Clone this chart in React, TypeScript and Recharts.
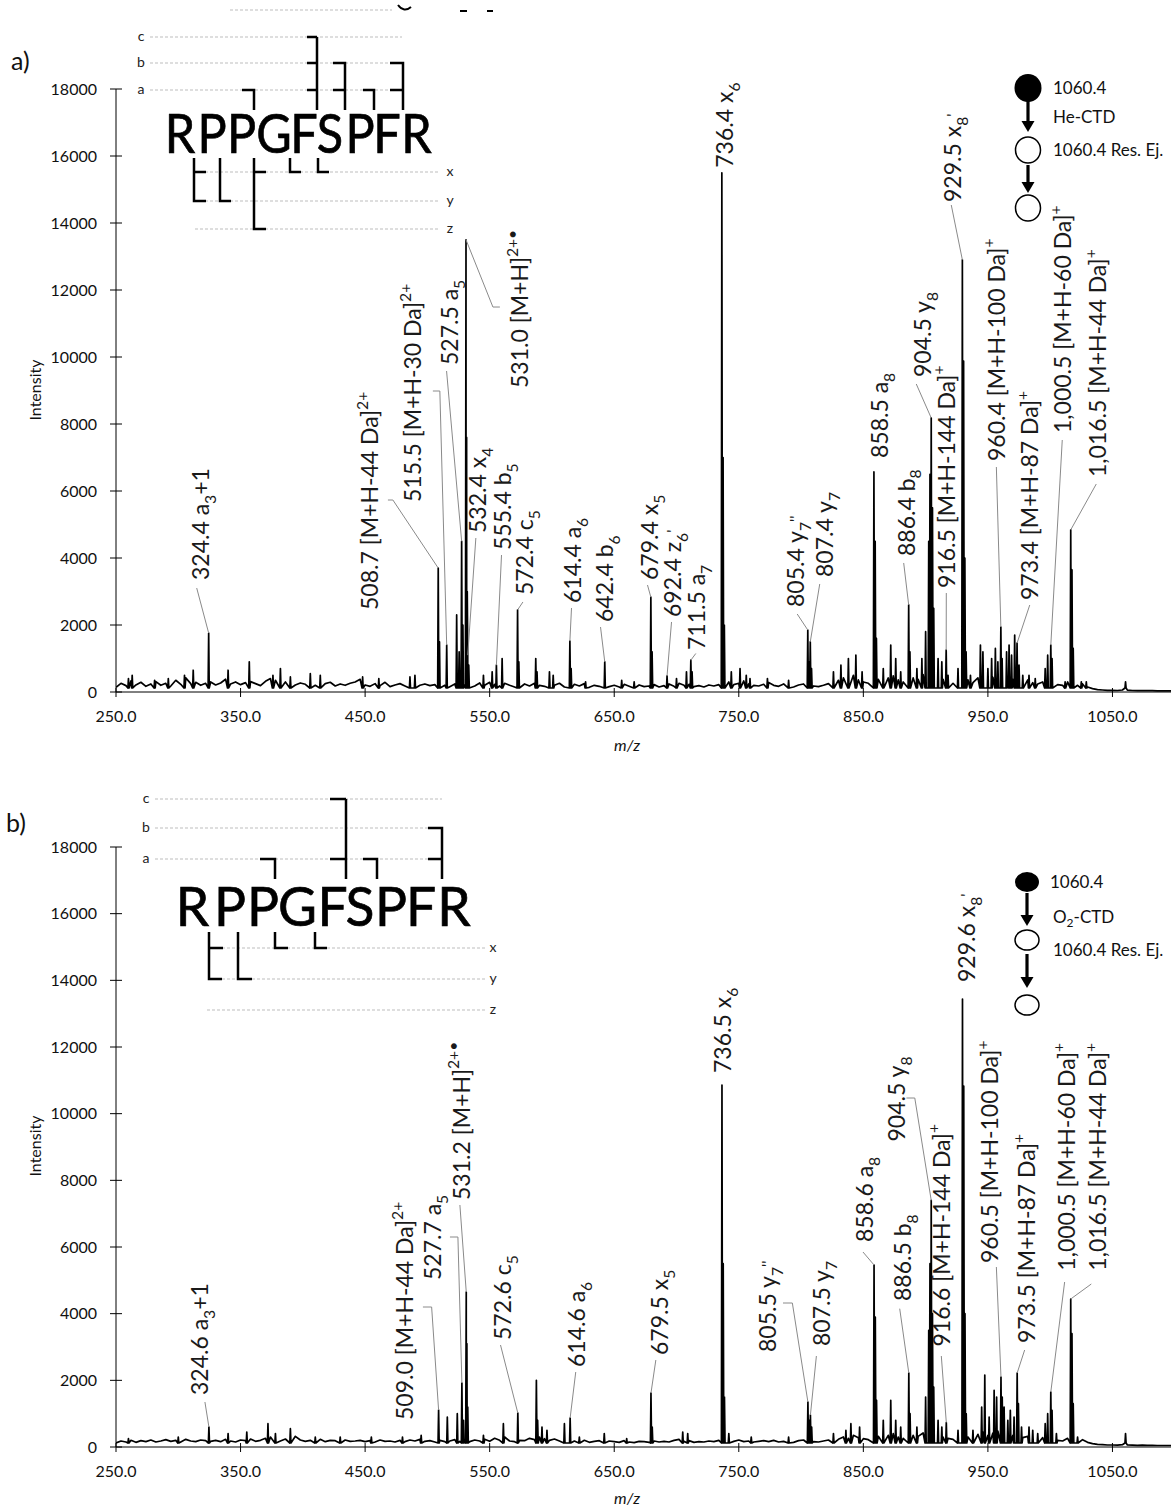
import React from 'react';
import { ComposedChart, Line, XAxis, YAxis, ReferenceLine, ReferenceDot } from 'recharts';

// ---------------- data ----------------
const xTicks = [250, 350, 450, 550, 650, 750, 850, 950, 1050];
const yTicks = [0, 2000, 4000, 6000, 8000, 10000, 12000, 14000, 16000, 18000];
const noiseStart = 250;
const noiseStep = 4;

const noiseA = [
  140, 260, 190, 330, 210, 290, 170, 240, 310, 200,
  260, 180, 350, 230, 420, 250, 290, 200, 260, 300,
  210, 270, 380, 240, 300, 220, 280, 310, 250, 190,
  320, 400, 350, 260, 300, 230, 210, 270, 230, 260,
  200, 330, 250, 290, 180, 240, 200, 260, 300, 380,
  210, 170, 250, 190, 290, 160, 210, 250, 180, 300,
  260, 200, 240, 190, 220, 180, 200, 160, 240, 200,
  210, 250, 180, 270, 200, 290, 230, 180, 260, 200,
  150, 220, 240, 180, 260, 200, 170, 240, 200, 260,
  150, 200, 230, 180, 250, 140, 200, 170, 220, 160,
  200, 150, 230, 170, 140, 210, 160, 180, 220, 150,
  190, 240, 170, 260, 200, 230, 160, 190, 150, 210,
  180, 220, 260, 300, 220, 260, 330, 240, 200, 180,
  230, 280, 200, 170, 240, 180, 150, 210, 240, 200,
  180, 160, 200, 250, 300, 350, 420, 380, 500, 360,
  300, 260, 320, 380, 300, 420, 480, 360, 300, 340,
  420, 380, 520, 600, 500, 420, 380, 300, 260, 320,
  400, 360, 280, 420, 500, 380, 440, 520, 400, 460,
  380, 420, 300, 360, 280, 240, 300, 340, 280, 220,
  200, 300, 320, 200, 240, 150, 100, 70, 60, 50,
  50, 45, 60, 55, 45, 40, 45, 40, 40, 35,
  35, 35, 35,
];

const noiseB = [
  120, 180, 150, 200, 140, 190, 160, 210, 150, 180,
  220, 170, 200, 150, 230, 180, 160, 210, 190, 170,
  200, 160, 230, 180, 150, 210, 190, 240, 170, 200,
  260, 300, 200, 180, 240, 190, 320, 210, 170, 200,
  180, 230, 160, 200, 190, 150, 210, 170, 180, 200,
  160, 190, 150, 210, 170, 180, 150, 200, 160, 210,
  180, 230, 170, 190, 150, 200, 160, 180, 220, 170,
  190, 160, 210, 180, 230, 170, 260, 200, 300, 180,
  160, 200, 190, 260, 220, 300, 250, 200, 240, 180,
  200, 160, 180, 150, 200, 140, 170, 190, 150, 180,
  160, 140, 190, 150, 130, 170, 160, 140, 180, 150,
  170, 150, 200, 230, 170, 190, 140, 160, 150, 180,
  160, 200, 180, 220, 170, 210, 160, 180, 150, 170,
  190, 160, 200, 150, 170, 180, 140, 190, 210, 170,
  160, 150, 180, 210, 250, 230, 300, 260, 350, 280,
  250, 220, 280, 320, 260, 350, 400, 300, 260, 320,
  350, 320, 420, 480, 400, 350, 300, 260, 230, 280,
  350, 300, 260, 380, 450, 350, 420, 480, 380, 420,
  350, 380, 280, 320, 260, 220, 280, 300, 260, 200,
  180, 260, 300, 200, 220, 140, 100, 80, 70, 60,
  60, 55, 70, 60, 55, 50, 55, 50, 50, 45,
  45, 45, 45,
];

const peaksA: [number, number][] = [
  [260, 400], [263, 500], [281, 350], [292, 400], [305, 500], [312, 650], [324.4, 1760],
  [340, 650], [357, 900], [376, 500], [382, 700], [390, 450], [406, 550], [414, 500],
  [448, 450], [461, 400], [486, 450], [490, 500], [508.7, 3700], [509.7, 1500],
  [515.5, 1400], [523.5, 2300], [525.5, 1200], [527.5, 4500], [528.5, 2000],
  [531.0, 13500], [531.5, 7600], [532.0, 3000], [532.4, 1100], [533.2, 800],
  [545, 500], [552, 600], [555.4, 800], [560, 1000], [572.4, 2450], [573.4, 900],
  [587, 1000], [588, 600], [598, 600], [601, 500], [614.4, 1520], [615.4, 700],
  [627, 300], [642.4, 900], [656, 350], [666, 300], [679.4, 2830], [680.4, 1200],
  [692.4, 480], [700, 400], [708, 600], [711.5, 950], [712.5, 600],
  [736.4, 15500], [737.4, 7000], [738.4, 2000], [744, 600], [751, 700], [756, 500],
  [759, 400], [773, 400], [790, 350], [805.4, 1850], [806.4, 900], [807.4, 1500],
  [808.4, 700], [826, 600], [832, 800], [838, 1000], [844, 1100], [849, 600],
  [858.5, 6570], [859.5, 4500], [860.5, 1600], [866, 700], [872, 1400], [876, 1000],
  [880, 600], [886.4, 2600], [887.4, 1200], [893, 700], [897, 1000], [900, 1800],
  [902.5, 4500], [903.5, 6500], [904.5, 8180], [905.5, 5500], [906.5, 2500],
  [910, 1000], [913, 900], [916.5, 1250], [918, 500], [926, 700],
  [929.5, 12900], [930.5, 9880], [931.5, 4000], [932.5, 1200], [936, 500],
  [944, 1400], [946, 1200], [950, 700], [953, 1000], [956, 1300], [958, 900],
  [960.4, 1940], [961.4, 1000], [965, 1200], [967, 1400], [969, 1100], [971.5, 1700],
  [973.4, 1460], [975, 800], [978, 500], [983, 500], [988, 400], [996, 700],
  [998, 1100], [1000.5, 1400], [1001.5, 1000], [1012, 300], [1016.5, 4840],
  [1017.5, 3650], [1018.5, 1300], [1025, 300], [1029, 300], [1060.5, 300],
];

const peaksB: [number, number][] = [
  [260, 250], [300, 300], [324.6, 600], [340, 400], [355, 450], [372, 700], [378, 400],
  [390, 550], [410, 300], [430, 300], [455, 300], [480, 300], [495, 350],
  [509.0, 1110], [516, 900], [524, 1000], [527.7, 1920], [529, 800],
  [531.2, 4650], [531.7, 3100], [532.4, 1200], [545, 350], [561, 700],
  [572.6, 1020], [587.5, 2000], [588.5, 800], [592, 600], [596, 500], [610, 700],
  [614.6, 870], [622, 300], [642, 400], [660, 250], [679.5, 1620], [680.5, 600],
  [705, 450], [709, 400], [736.5, 10860], [737.5, 5500], [738.5, 1500], [742, 400],
  [760, 300], [790, 300], [805.5, 1350], [806.5, 800], [807.5, 960], [808.5, 600],
  [826, 400], [836, 500], [840, 700], [847, 600], [858.6, 5460], [859.6, 3900],
  [860.6, 1400], [866, 800], [872, 1400], [876, 800], [880, 600], [886.5, 2220],
  [887.5, 1000], [893, 600], [900, 1500], [902.5, 3500], [903.5, 5500], [904.5, 7400],
  [905.5, 4000], [906.5, 1800], [910, 800], [913, 600], [916.6, 735], [926, 500],
  [929.6, 13440], [930.6, 10830], [931.6, 4000], [932.6, 1000], [938, 500],
  [945, 1200], [947.5, 2160], [951, 900], [955, 1700], [957, 1500], [960.5, 2100],
  [961.5, 1500], [963, 1200], [966, 800], [968, 1100], [971, 900], [973.5, 2220],
  [974.5, 1300], [977, 600], [983, 600], [986, 500], [990, 400], [996, 700],
  [998, 1000], [1000.5, 1650], [1001.5, 1100], [1005, 400], [1016.5, 4440],
  [1017.5, 3400], [1018.5, 1300], [1022, 300], [1060.5, 400],
];

// peak annotations (peak m/z and text; _{} = subscript, ^{} = superscript)
const labelsA = [
  { mz: 324.4, text: '324.4 a_{3}+1' },
  { mz: 508.7, text: '508.7 [M+H-44 Da]^{2+}' },
  { mz: 515.5, text: '515.5 [M+H-30 Da]^{2+}' },
  { mz: 527.5, text: '527.5 a_{5}' },
  { mz: 531.0, text: '531.0 [M+H]^{2+•}' },
  { mz: 532.4, text: '532.4 x_{4}' },
  { mz: 555.4, text: '555.4 b_{5}' },
  { mz: 572.4, text: '572.4 c_{5}' },
  { mz: 614.4, text: '614.4 a_{6}' },
  { mz: 642.4, text: '642.4 b_{6}' },
  { mz: 679.4, text: '679.4 x_{5}' },
  { mz: 692.4, text: "692.4 z_{6}^{'}" },
  { mz: 711.5, text: '711.5 a_{7}' },
  { mz: 736.4, text: '736.4 x_{6}' },
  { mz: 805.4, text: "805.4 y_{7}^{''}" },
  { mz: 807.4, text: '807.4 y_{7}' },
  { mz: 858.5, text: '858.5 a_{8}' },
  { mz: 886.4, text: '886.4 b_{8}' },
  { mz: 904.5, text: '904.5 y_{8}' },
  { mz: 916.5, text: '916.5 [M+H-144 Da]^{+}' },
  { mz: 929.5, text: "929.5 x_{8}^{'}" },
  { mz: 960.4, text: '960.4 [M+H-100 Da]^{+}' },
  { mz: 973.4, text: '973.4 [M+H-87 Da]^{+}' },
  { mz: 1000.5, text: '1,000.5 [M+H-60 Da]^{+}' },
  { mz: 1016.5, text: '1,016.5 [M+H-44 Da]^{+}' },
];

const labelsB = [
  { mz: 324.6, text: '324.6 a_{3}+1' },
  { mz: 509.0, text: '509.0 [M+H-44 Da]^{2+}' },
  { mz: 527.7, text: '527.7 a_{5}' },
  { mz: 531.2, text: '531.2 [M+H]^{2+•}' },
  { mz: 572.6, text: '572.6 c_{5}' },
  { mz: 614.6, text: '614.6 a_{6}' },
  { mz: 679.5, text: '679.5 x_{5}' },
  { mz: 736.5, text: '736.5 x_{6}' },
  { mz: 805.5, text: "805.5 y_{7}^{''}" },
  { mz: 807.5, text: '807.5 y_{7}' },
  { mz: 858.6, text: '858.6 a_{8}' },
  { mz: 886.5, text: '886.5 b_{8}' },
  { mz: 904.5, text: '904.5 y_{8}' },
  { mz: 916.6, text: '916.6 [M+H-144 Da]^{+}' },
  { mz: 929.6, text: "929.6 x_{8}^{'}" },
  { mz: 960.5, text: '960.5 [M+H-100 Da]^{+}' },
  { mz: 973.5, text: '973.5 [M+H-87 Da]^{+}' },
  { mz: 1000.5, text: '1,000.5 [M+H-60 Da]^{+}' },
  { mz: 1016.5, text: '1,016.5 [M+H-44 Da]^{+}' },
];

// ---------------- layout (label anchors / leader bends, in axis units) ----------------
type LL = { at: [number, number]; via: [number, number][] };
const layoutA: LL[] = [
  { at: [318.2, 3343], via: [[314.8, 3104]] },
  { at: [453.9, 2448], via: [[468.3, 5731], [472.3, 5731]] },
  { at: [488.4, 5672], via: [[504.4, 8985], [510.0, 8985]] },
  { at: [518.1, 9761], via: [[515.4, 9582]] },
  { at: [574.2, 9074], via: [[558.2, 11492], [552.6, 11492]] },
  { at: [540.5, 4746], via: [[538.9, 4597]] },
  { at: [560.6, 4239], via: [[559.5, 4089]] },
  { at: [578.3, 2895], via: [[576.7, 2687]] },
  { at: [616.8, 2657], via: [[615.7, 2507]] },
  { at: [642.5, 2090], via: [[639.0, 1940]] },
  { at: [678.6, 3343], via: [[676.7, 3194]] },
  { at: [697.1, 2239], via: [[696.0, 2090]] },
  { at: [716.3, 1254], via: [[715.5, 1150]] },
  { at: [739.0, 15650], via: [] },
  { at: [795.8, 2537], via: [[796.9, 2328]] },
  { at: [819.0, 3433], via: [[815.0, 3224]] },
  { at: [863.2, 6985], via: [] },
  { at: [884.5, 4060], via: [[882.4, 3851]] },
  { at: [897.7, 9403], via: [[892.5, 9194]] },
  { at: [916.6, 3104], via: [[916.6, 2955]] },
  { at: [921.7, 14627], via: [[920.6, 14537]] },
  { at: [956.8, 6895], via: [[956.8, 6716]] },
  { at: [983.6, 2746], via: [[983.6, 2597]] },
  { at: [1010.0, 7731], via: [[1009.7, 7522]] },
  { at: [1038.1, 6418], via: [[1037.0, 6209]] },
];

const layoutB: LL[] = [
  { at: [317.4, 1560], via: [[321.4, 1350]] },
  { at: [481.9, 810], via: [[496.4, 4200], [503.4, 4200]] },
  { at: [504.4, 5010], via: [[518.1, 6300], [524.5, 6300]] },
  { at: [527.4, 7410], via: [[526.1, 7260]] },
  { at: [560.6, 3210], via: [[558.7, 3060]] },
  { at: [619.7, 2400], via: [[619.1, 2250]] },
  { at: [686.6, 2760], via: [[683.4, 2610]] },
  { at: [737.3, 11220], via: [] },
  { at: [773.4, 2850], via: [[785.5, 4320], [793.0, 4320]] },
  { at: [816.3, 3030], via: [[812.3, 2730]] },
  { at: [851.1, 6150], via: [[849.7, 5850]] },
  { at: [881.8, 4380], via: [[879.2, 4150]] },
  { at: [876.5, 9165], via: [[884.6, 10470], [891.3, 10470]] },
  { at: [912.6, 3015], via: [[912.6, 2730]] },
  { at: [932.7, 13950], via: [] },
  { at: [951.4, 5520], via: [[956.8, 5400]] },
  { at: [980.8, 3120], via: [[979.5, 2910]] },
  { at: [1012.9, 5290], via: [[1011.6, 4950]] },
  { at: [1038.3, 5290], via: [[1033.0, 4890]] },
];

// ---------------- helpers ----------------
const FONT = 'Lato, "Open Sans", sans-serif';
const W = 1171;
const PEAK_FOOT = 120;
const LABEL_SIZE = 23;
const SEQ = ['R', 'P', 'P', 'G', 'F', 'S', 'P', 'F', 'R'];
const seqXA = [180, 212, 241.5, 274, 304, 330, 360, 387, 416.5];
const seqXB = [192.5, 230, 263, 297.5, 332.5, 360, 391, 421, 454];

function buildSpectrum(noise: number[], peaks: [number, number][]) {
  const pts: { mz: number; v: number }[] = [];
  noise.forEach((v, i) => {
    const mz = noiseStart + i * noiseStep;
    if (peaks.some(([p]) => Math.abs(p - mz) < 0.8)) return;
    pts.push({ mz, v });
  });
  peaks.forEach(([mz, h]) => {
    pts.push({ mz: mz - 0.45, v: PEAK_FOOT }, { mz, v: h }, { mz: mz + 0.45, v: PEAK_FOOT });
  });
  pts.sort((a, b) => a.mz - b.mz);
  return pts;
}

function rich(text: string, size: number) {
  const parts = text.split(/(_\{[^}]*\}|\^\{[^}]*\})/).filter((s) => s.length > 0);
  let shift = 0;
  let prevSub = false;
  return parts.map((p, i) => {
    let target = 0;
    let content = p;
    let fs = size;
    const isSub = p.startsWith('_{');
    if (isSub) {
      target = 0.3 * size;
      content = p.slice(2, -1);
      fs = 0.68 * size;
    } else if (p.startsWith('^{')) {
      target = prevSub ? -0.12 * size : -0.45 * size;
      content = p.slice(2, -1);
      fs = 0.68 * size;
    }
    const dy = target - shift;
    shift = target;
    prevSub = isSub;
    return (
      <tspan key={i} dy={dy || undefined} fontSize={fs}>
        {content}
      </tspan>
    );
  });
}

const XTick = (p: any) => (
  <g>
    <line x1={p.x} x2={p.x} y1={p.y - 4} y2={p.y + 5} stroke="#000" strokeWidth={1} />
    <text x={p.x} y={p.y + 30} textAnchor="middle" fontSize={16} fontFamily={FONT} fill="#111">
      {Number(p.payload.value).toFixed(1)}
    </text>
  </g>
);

const YTick = (p: any) => (
  <g>
    <line x1={p.x - 6} x2={p.x + 6} y1={p.y} y2={p.y} stroke="#000" strokeWidth={1} />
    <text x={p.x - 19} y={p.y} dy="0.36em" textAnchor="end" fontSize={16} fontFamily={FONT} fill="#111">
      {p.payload.value}
    </text>
  </g>
);

function Panel({
  top, noise, peaks, labels, layout,
}: { top: number; noise: number[]; peaks: [number, number][]; labels: { mz: number; text: string }[]; layout: LL[] }) {
  const data = buildSpectrum(noise, peaks);
  const plotH = top === 0 ? 603 : 600;
  const leaders: React.ReactNode[] = [];
  const texts: React.ReactNode[] = [];
  labels.forEach((lb, i) => {
    const lay = layout[i];
    const pk = peaks.find(([m]) => m === lb.mz);
    const peakPt: [number, number] = [lb.mz, pk ? pk[1] : 0];
    const chain: [number, number][] = [...lay.via, peakPt];
    if (lay.via.length > 0) {
      for (let k = 0; k < chain.length - 1; k++) {
        leaders.push(
          <ReferenceLine
            key={`l${i}-${k}`}
            segment={[{ x: chain[k][0], y: chain[k][1] }, { x: chain[k + 1][0], y: chain[k + 1][1] }]}
            stroke="#8a8a8a"
            strokeWidth={1}
            ifOverflow="visible"
          />
        );
      }
    }
    texts.push(
      <ReferenceDot
        key={`t${i}`}
        x={lay.at[0]}
        y={lay.at[1]}
        r={1}
        ifOverflow="visible"
        shape={(sp: any) => (
          <text
            transform={`translate(${sp.cx},${sp.cy}) rotate(-90)`}
            x={0}
            y={0.36 * LABEL_SIZE}
            fontSize={LABEL_SIZE}
            fontFamily={FONT}
            fill="#1a1a1a"
          >
            {rich(lb.text, LABEL_SIZE)}
          </text>
        )}
      />
    );
  });
  return (
    <div style={{ position: 'absolute', left: 0, top }}>
      <ComposedChart width={W} height={89 + plotH + 60} data={data} margin={{ top: 89, right: 0, bottom: 0, left: 0 }}>
        <XAxis
          dataKey="mz"
          type="number"
          domain={[250, 1097]}
          allowDataOverflow
          ticks={xTicks}
          interval={0}
          height={60}
          axisLine={{ stroke: '#000', strokeWidth: 1 }}
          tickLine={false}
          tickSize={0}
          tickMargin={0}
          tick={XTick}
        />
        <YAxis
          type="number"
          domain={[0, 18000]}
          ticks={yTicks}
          interval={0}
          width={116}
          axisLine={{ stroke: '#000', strokeWidth: 1 }}
          tickLine={false}
          tickSize={0}
          tickMargin={0}
          tick={YTick}
        />
        <Line
          dataKey="v"
          type="linear"
          dot={false}
          activeDot={false}
          stroke="#000"
          strokeWidth={1.7}
          strokeLinejoin="round"
          isAnimationActive={false}
        />
        {leaders}
        {texts}
      </ComposedChart>
    </div>
  );
}

const dash = { stroke: '#bdbdbd', strokeWidth: 1, strokeDasharray: '3 2' };
const mark = { stroke: '#000', strokeWidth: 2.5, fill: 'none' };

function Arrow({ x, y1, y2 }: { x: number; y1: number; y2: number }) {
  return (
    <g>
      <line x1={x} x2={x} y1={y1} y2={y2 - 8} stroke="#000" strokeWidth={3.2} />
      <path d={`M${x - 6.5},${y2 - 11} L${x + 6.5},${y2 - 11} L${x},${y2} Z`} fill="#000" />
    </g>
  );
}

function Overlay() {
  const small = { fontSize: 14, fontFamily: FONT, fill: '#222' };
  const leg = { fontSize: 17, fontFamily: FONT, fill: '#111' };
  return (
    <svg width={W} height={1510} style={{ position: 'absolute', left: 0, top: 0, pointerEvents: 'none' }}>
      {/* cropped remnants at top */}
      <line x1={230} x2={392} y1={10} y2={10} {...dash} />
      <path d="M398,5 Q404,13 411,7" stroke="#000" strokeWidth={2} fill="none" />
      <line x1={460} x2={467} y1={11} y2={11} stroke="#000" strokeWidth={2} />
      <line x1={487} x2={493} y1={11} y2={11} stroke="#000" strokeWidth={2} />

      {/* panel letters */}
      <text x={11} y={70} fontSize={25} fontFamily={FONT} fill="#111">a)</text>
      <text x={6} y={832} fontSize={25} fontFamily={FONT} fill="#111">b)</text>

      {/* axis titles */}
      <text transform="translate(41,390) rotate(-90)" textAnchor="middle" fontSize={16} fontFamily={FONT} fill="#111">Intensity</text>
      <text transform="translate(41,1146) rotate(-90)" textAnchor="middle" fontSize={16} fontFamily={FONT} fill="#111">Intensity</text>
      <text x={627} y={751} textAnchor="middle" fontSize={16} fontStyle="italic" fontFamily={FONT} fill="#111">m/z</text>
      <text x={627} y={1504} textAnchor="middle" fontSize={16} fontStyle="italic" fontFamily={FONT} fill="#111">m/z</text>

      {/* ---- sequence map a ---- */}
      <line x1={150} x2={402} y1={37} y2={37} {...dash} />
      <line x1={150} x2={403} y1={63} y2={63} {...dash} />
      <line x1={150} x2={403} y1={90} y2={90} {...dash} />
      <text x={141} y={37} dy="0.3em" textAnchor="middle" {...small}>c</text>
      <text x={141} y={63} dy="0.3em" textAnchor="middle" {...small}>b</text>
      <text x={141} y={90} dy="0.3em" textAnchor="middle" {...small}>a</text>
      <line x1={200} x2={440} y1={172} y2={172} {...dash} />
      <line x1={200} x2={440} y1={201} y2={201} {...dash} />
      <line x1={195} x2={440} y1={229} y2={229} {...dash} />
      <text x={450} y={172} dy="0.3em" textAnchor="middle" {...small}>x</text>
      <text x={450} y={201} dy="0.3em" textAnchor="middle" {...small}>y</text>
      <text x={450} y={229} dy="0.3em" textAnchor="middle" {...small}>z</text>
      {SEQ.map((ch, i) => (
        <text key={i} transform={`translate(${seqXA[i]},153) scale(0.9,1)`} textAnchor="middle" fontSize={54} fontFamily={FONT} fill="#000" stroke="#000" strokeWidth={0.7}>{ch}</text>
      ))}
      <path d="M242,90 H254 V110" {...mark} />
      <path d="M317,37 V110 M307,37 H317 M307,63 H317 M307,90 H317" {...mark} />
      <path d="M333,63 H345 V110 M333,90 H345" {...mark} />
      <path d="M363,90 H374 V110" {...mark} />
      <path d="M390,63 H403 V110 M390,90 H403" {...mark} />
      <path d="M194,158 V201 H206 M194,172 H206" {...mark} />
      <path d="M220,158 V201 H231" {...mark} />
      <path d="M254,158 V229 H266 M254,172 H266" {...mark} />
      <path d="M290,158 V172 H301" {...mark} />
      <path d="M318,158 V172 H329" {...mark} />

      {/* ---- sequence map b ---- */}
      <line x1={155} x2={442} y1={799} y2={799} {...dash} />
      <line x1={155} x2={442} y1={828} y2={828} {...dash} />
      <line x1={155} x2={442} y1={859} y2={859} {...dash} />
      <text x={146} y={799} dy="0.3em" textAnchor="middle" {...small}>c</text>
      <text x={146} y={828} dy="0.3em" textAnchor="middle" {...small}>b</text>
      <text x={146} y={859} dy="0.3em" textAnchor="middle" {...small}>a</text>
      <line x1={222} x2={487} y1={948} y2={948} {...dash} />
      <line x1={222} x2={487} y1={979} y2={979} {...dash} />
      <line x1={207} x2={487} y1={1010} y2={1010} {...dash} />
      <text x={493} y={948} dy="0.3em" textAnchor="middle" {...small}>x</text>
      <text x={493} y={979} dy="0.3em" textAnchor="middle" {...small}>y</text>
      <text x={493} y={1010} dy="0.3em" textAnchor="middle" {...small}>z</text>
      {SEQ.map((ch, i) => (
        <text key={i} transform={`translate(${seqXB[i]},926) scale(0.97,1)`} textAnchor="middle" fontSize={55} fontFamily={FONT} fill="#000" stroke="#000" strokeWidth={0.7}>{ch}</text>
      ))}
      <path d="M260,859 H275 V879" {...mark} />
      <path d="M346,799 V879 M330,799 H346 M330,859 H346" {...mark} />
      <path d="M363,859 H377 V879" {...mark} />
      <path d="M428,828 H442 V879 M428,859 H442" {...mark} />
      <path d="M209,932 V979 H222 M209,948 H223" {...mark} />
      <path d="M238,932 V979 H252" {...mark} />
      <path d="M275,932 V948 H288" {...mark} />
      <path d="M315,932 V948 H327" {...mark} />

      {/* ---- precursor legend a ---- */}
      <ellipse cx={1028} cy={88} rx={13.5} ry={14} fill="#000" />
      <Arrow x={1028} y1={100} y2={132} />
      <ellipse cx={1028} cy={150} rx={12.5} ry={13} fill="#fff" stroke="#000" strokeWidth={1.5} />
      <Arrow x={1028} y1={165} y2={193} />
      <ellipse cx={1028} cy={208} rx={12.5} ry={13} fill="#fff" stroke="#000" strokeWidth={1.5} />
      <text x={1053} y={94} {...leg}>1060.4</text>
      <text x={1053} y={123} {...leg}>He-CTD</text>
      <text x={1053} y={156} {...leg}>1060.4 Res. Ej.</text>

      {/* ---- precursor legend b ---- */}
      <ellipse cx={1027} cy={882} rx={12} ry={10} fill="#000" />
      <Arrow x={1027} y1={893} y2={926} />
      <ellipse cx={1027} cy={940} rx={12} ry={10} fill="#fff" stroke="#000" strokeWidth={1.5} />
      <Arrow x={1027} y1={954} y2={988} />
      <ellipse cx={1027} cy={1005} rx={12} ry={10} fill="#fff" stroke="#000" strokeWidth={1.5} />
      <text x={1050} y={888} {...leg}>1060.4</text>
      <text x={1053} y={923} {...leg}>O<tspan fontSize={12} dy={4}>2</tspan><tspan dy={-4}>-CTD</tspan></text>
      <text x={1053} y={956} {...leg}>1060.4 Res. Ej.</text>
    </svg>
  );
}

export default function App() {
  return (
    <div style={{ position: 'absolute', left: 0, top: 0, width: W, height: 1510, background: '#fff', overflow: 'hidden' }}>
      <Panel top={0} noise={noiseA} peaks={peaksA} labels={labelsA} layout={layoutA} />
      <Panel top={758} noise={noiseB} peaks={peaksB} labels={labelsB} layout={layoutB} />
      <Overlay />
    </div>
  );
}
